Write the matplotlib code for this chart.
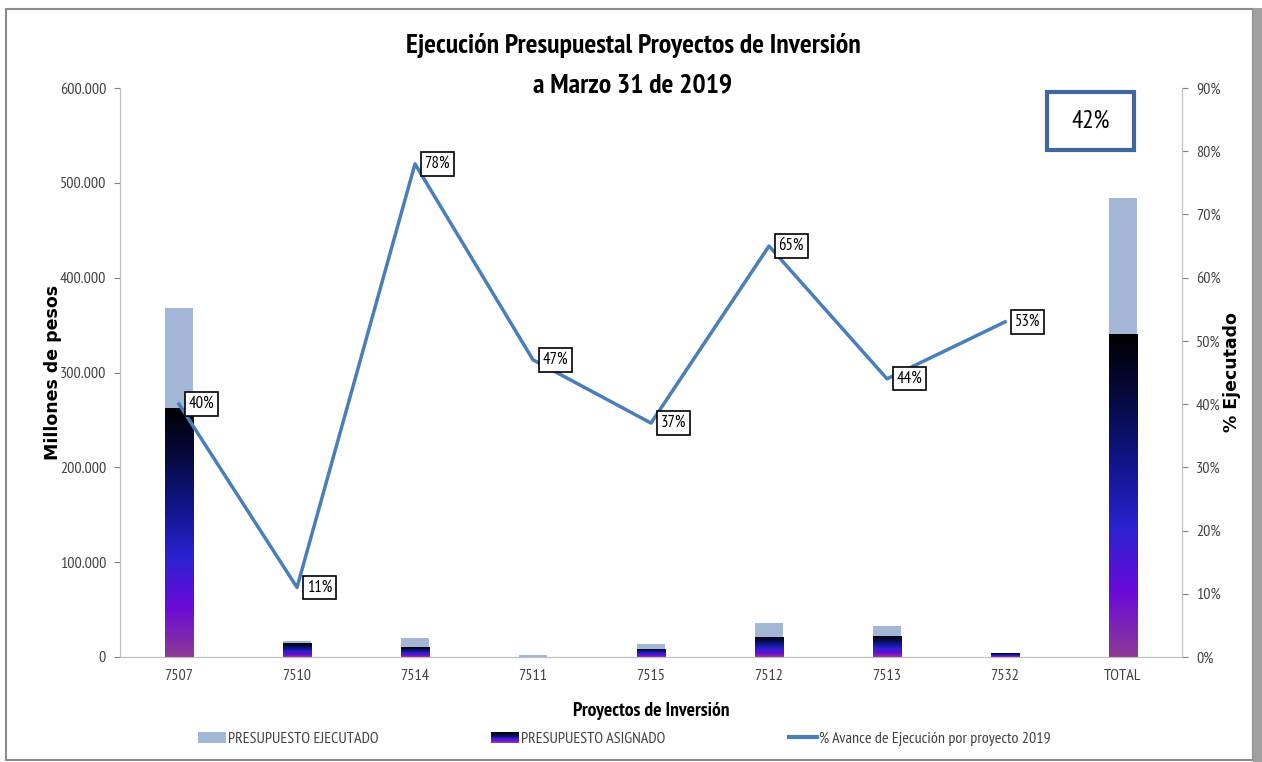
import numpy as np
import matplotlib
matplotlib.use("Agg")
import matplotlib.pyplot as plt
from matplotlib.patches import Rectangle
from matplotlib.colors import LinearSegmentedColormap
from matplotlib.legend_handler import HandlerBase
from matplotlib.lines import Line2D

# ---- data ----
categories = ["7507", "7510", "7514", "7511", "7515", "7512", "7513", "7532", "TOTAL"]
ejecutado = [368000, 17000, 19600, 2600, 13200, 35800, 32400, 3800, 484000]
asignado = [262600, 14700, 10500, 500, 8700, 21500, 22600, 3800, 340700]
avance_cats = ["7507", "7510", "7514", "7511", "7515", "7512", "7513", "7532"]
avance = [0.40, 0.11, 0.78, 0.47, 0.37, 0.65, 0.44, 0.53]
total_pct = "42%"
yticks = [0, 100000, 200000, 300000, 400000, 500000, 600000]
ytick_labels = ["0", "100.000", "200.000", "300.000", "400.000", "500.000", "600.000"]
pticks = [0.0, 0.1, 0.2, 0.3, 0.4, 0.5, 0.6, 0.7, 0.8, 0.9]
ptick_labels = ["0%", "10%", "20%", "30%", "40%", "50%", "60%", "70%", "80%", "90%"]

narrow = ["PT Sans Narrow", "DejaVu Sans"]
W, H = 1262, 762

fig = plt.figure(figsize=(12.62, 7.62), dpi=100)
ax = fig.add_axes([120 / W, 1 - 657 / H, 1062 / W, 569 / H])
ax2 = ax.twinx()

x = np.arange(len(categories))
light = "#A3B6D6"
grad = LinearSegmentedColormap.from_list(
    "g", ["#8E3A96", "#6A0AD8", "#2A22D0", "#10168A", "#060A40", "#000000"])

w = 0.245
ax.bar(x, ejecutado, width=w, color=light, zorder=2)
bars = ax.bar(x, asignado, width=w, color="none", zorder=3)
gimg = np.linspace(0, 1, 256).reshape(-1, 1)
for b in bars:
    x0, y0 = b.get_x(), b.get_y()
    wd, ht = b.get_width(), b.get_height()
    im = ax.imshow(gimg, cmap=grad, origin="lower", aspect="auto",
                   extent=[x0, x0 + wd, y0, y0 + ht], zorder=3)
    im.set_clip_path(b)

ax.set_xlim(-0.5, len(categories) - 0.5)
ax.set_ylim(0, 600000)
ax.set_yticks(yticks)
ax.set_yticklabels(ytick_labels)
ax.set_xticks(x)
ax.set_xticklabels(categories)

ax2.set_ylim(0, 0.9)
ax2.set_yticks(pticks)
ax2.set_yticklabels(ptick_labels)

ax_x = [categories.index(c) for c in avance_cats]
ax2.plot(ax_x, avance, color="#4A7EBB", lw=2.5, zorder=4)
for xi, v in zip(ax_x, avance):
    ax2.annotate(f"{int(round(v*100))}%", (xi, v), xytext=(16, 0),
                 textcoords="offset points", ha="center", va="center",
                 fontsize=12, family=narrow,
                 bbox=dict(boxstyle="square,pad=0.22", fc="white", ec="black", lw=1.2),
                 zorder=6)

for a in (ax, ax2):
    for s in a.spines.values():
        s.set_color("#BFBFBF")
    a.spines["top"].set_visible(False)
    a.tick_params(colors="#7F7F7F", labelsize=11.5, length=4)
    for lab in a.get_xticklabels() + a.get_yticklabels():
        lab.set_family(narrow)
        lab.set_color("#404040")
ax.tick_params(axis="x", length=0, pad=9)
ax.tick_params(axis="y", pad=6)
ax2.tick_params(axis="y", pad=6)

ax.set_ylabel("Millones de pesos", fontsize=12.5, fontweight="bold")
ax.yaxis.set_label_coords((62 - 120) / 1062, 0.5)
ax2.set_ylabel("% Ejecutado", fontsize=12.5, fontweight="bold", rotation=90)
ax2.yaxis.set_label_coords((1223 - 120) / 1062, 0.5)
ax.set_xlabel("Proyectos de Inversión", fontsize=14, fontweight="bold", family=narrow)
ax.xaxis.set_label_coords((651 - 120) / 1062, -(702 - 657) / 569)

fig.text(633 / W, 1 - 46 / H, "Ejecución Presupuestal Proyectos de Inversión",
         ha="center", va="center", fontsize=20, fontweight="bold", family=narrow)
fig.text(633 / W, 1 - 85 / H, "a Marzo 31 de 2019",
         ha="center", va="center", fontsize=20, fontweight="bold", family=narrow)

# total box
fig.patches.append(Rectangle((1047 / W, 1 - 150 / H), 87 / W, 58 / H,
                             transform=fig.transFigure, fill=False,
                             ec="#41669B", lw=3, zorder=10))
fig.text((1047 + 43.5) / W, 1 - 121 / H, total_pct, ha="center", va="center",
         fontsize=18, family=narrow)

# frame
fig.patches.append(Rectangle((6 / W, 2 / H), 1247 / W, 751 / H, transform=fig.transFigure,
                             fill=False, ec="#8C8C8C", lw=1.5))
fig.patches.append(Rectangle((1253 / W, 0), 9 / W, 754 / H, transform=fig.transFigure,
                             fc="#A0A0A0", ec="none"))


class GradHandler(HandlerBase):
    def create_artists(self, legend, orig, xd, yd, width, height, fontsize, trans):
        arts = []
        n = 12
        for i in range(n):
            r = Rectangle((xd, yd + height * i / n), width, height / n,
                          fc=grad(i / (n - 1)), ec="none", transform=trans)
            arts.append(r)
        return arts


h1 = Rectangle((0, 0), 1, 1, fc=light, ec="none")
h2 = Rectangle((0, 0), 1, 1)
h3 = Line2D([], [], color="#4A7EBB", lw=3)
items = [(h1, "PRESUPUESTO EJECUTADO", 198), (h2, "PRESUPUESTO ASIGNADO", 491),
         (h3, "% Avance de Ejecución por proyecto 2019", 789)]
for h, lab, xp in items:
    leg = fig.legend([h], [lab], handler_map={h2: GradHandler()},
                     loc="center left", bbox_to_anchor=(xp / W, 1 - 739 / H),
                     frameon=False, borderpad=0, borderaxespad=0,
                     handlelength=1.75, handletextpad=0.15,
                     prop={"family": narrow, "size": 11.5})
    for t in leg.get_texts():
        t.set_color("#404040")

fig.savefig("out.png", dpi=100)
